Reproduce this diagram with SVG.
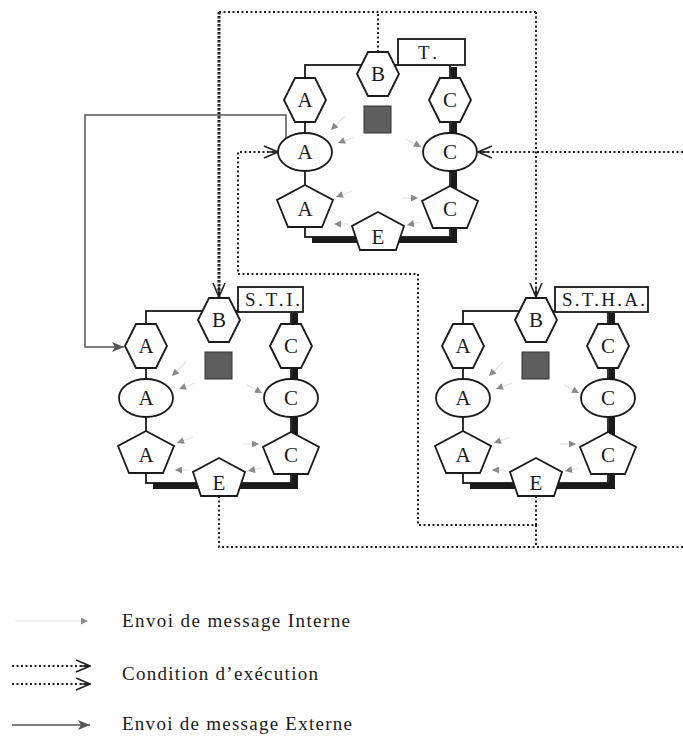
<svg xmlns="http://www.w3.org/2000/svg" width="683" height="736" viewBox="0 0 683 736">
<style>
.shape{fill:#fff;stroke:#1a1a1a;stroke-width:1.8}
.frame{fill:none;stroke:#1a1a1a;stroke-width:1.8}
.shadow{fill:none;stroke:#1a1a1a;stroke-width:6}
.core{fill:#5e5e5e;stroke:#333;stroke-width:1}
.lbl{font-family:"Liberation Serif",serif;font-size:21px;fill:#1a1a1a;text-anchor:middle}
.box{font-family:"Liberation Serif",serif;font-size:19px;fill:#1a1a1a}
.int{stroke:#e2e2e2;stroke-width:1.2;fill:none;marker-end:url(#mInt)}
.cond{fill:none;stroke:#222;stroke-width:2;stroke-dasharray:2 2.5}
.condB{fill:none;stroke:#222;stroke-width:3;stroke-dasharray:2.5 1.5}
.ext{fill:none;stroke:#555;stroke-width:1.5}
.leg{font-family:"Liberation Serif",serif;font-size:19px;fill:#1a1a1a}
</style>
<defs>
<polygon id="hex" points="-21,0 -10,-22 10,-22 21,0 10,22 -10,22"/>
<polygon id="pent" points="0,-21 28,-6 17,21 -17,21 -28,-6"/>
<polygon id="pentE" points="0,-19 26,-5 18,19 -18,19 -26,-5"/>
<marker id="mInt" viewBox="0 0 10 10" refX="10" refY="5" markerWidth="9" markerHeight="7" markerUnits="userSpaceOnUse" orient="auto">
<path d="M0,0 L10,5 L0,10 z" fill="#8a8a8a"/>
</marker>
<marker id="mCond" viewBox="0 0 16 14" refX="15" refY="7" markerWidth="16" markerHeight="14" markerUnits="userSpaceOnUse" orient="auto">
<path d="M1,1 L15,7 L1,13 M5,7 L15,7" fill="none" stroke="#222" stroke-width="1.6" stroke-dasharray="none"/>
</marker>
<marker id="mExt" viewBox="0 0 12 10" refX="12" refY="5" markerWidth="12" markerHeight="10" markerUnits="userSpaceOnUse" orient="auto">
<path d="M0,0 L12,5 L0,10 L3,5 z" fill="#555"/>
</marker>
</defs>
<rect width="683" height="736" fill="#fff"/>

<g id="connectors">
<path class="cond" d="M378 52 V12 M219 12 H536 M536 12 V297" marker-end="url(#mCond)"/>
<path class="condB" d="M219 12 V297" marker-end="url(#mCond)"/>
<path class="cond" d="M536 496 V525 H418 V274 H238 V152 H278" marker-end="url(#mCond)"/>
<path class="cond" d="M536 525 V547 M219 496 V547 H683"/>
<path class="cond" d="M683 152 H478" marker-end="url(#mCond)"/>
<path class="ext" d="M286 138 V115 H85 V347 H124" marker-end="url(#mExt)"/>
</g>

<g id="module-T">
<g id="T-frame"><path class="shadow" d="M454 67 V240 H312"/><rect class="frame" x="305" y="65" width="145" height="172"/></g>
<g id="T-name"><rect class="shape" x="398" y="39" width="67" height="26"/><text class="box" x="418" y="59" textLength="19">T.</text></g>
<g id="T-core"><rect class="core" x="364" y="106" width="27" height="27"/></g>
<g id="T-internal">
<line class="int" x1="345" y1="116" x2="331" y2="130"/><line class="int" x1="354" y1="137" x2="338" y2="143"/>
<line class="int" x1="406" y1="139" x2="421" y2="147"/><line class="int" x1="352" y1="191" x2="336" y2="197"/>
<line class="int" x1="402" y1="198" x2="418" y2="198"/><line class="int" x1="348" y1="224" x2="334" y2="224"/>
<line class="int" x1="421" y1="222" x2="407" y2="225"/>
</g>
<g id="T-B"><use href="#hex" class="shape" x="378" y="74"/><text class="lbl" x="378" y="81">B</text></g>
<g id="T-A1"><use href="#hex" class="shape" x="305" y="100"/><text class="lbl" x="305" y="107">A</text></g>
<g id="T-A2"><ellipse class="shape" cx="305" cy="152" rx="27" ry="19"/><text class="lbl" x="305" y="159">A</text></g>
<g id="T-A3"><use href="#pent" class="shape" x="305" y="206"/><text class="lbl" x="305" y="216">A</text></g>
<g id="T-C1"><use href="#hex" class="shape" x="450" y="100"/><text class="lbl" x="450" y="107">C</text></g>
<g id="T-C2"><ellipse class="shape" cx="450" cy="152" rx="27" ry="19"/><text class="lbl" x="450" y="159">C</text></g>
<g id="T-C3"><use href="#pent" class="shape" x="450" y="207"/><text class="lbl" x="450" y="216">C</text></g>
<g id="T-E"><use href="#pentE" class="shape" x="378" y="231"/><text class="lbl" x="378" y="244">E</text></g>
</g>

<g id="module-STI" transform="translate(-159,246)">
<g id="STI-frame"><path class="shadow" d="M454 67 V240 H312"/><rect class="frame" x="305" y="65" width="145" height="172"/></g>
<g id="STI-name"><rect class="shape" x="397" y="41" width="65" height="25"/><text class="box" x="404" y="60" textLength="55">S.T.I.</text></g>
<g id="STI-core"><rect class="core" x="364" y="106" width="27" height="27"/></g>
<g id="STI-internal">
<line class="int" x1="345" y1="116" x2="331" y2="130"/><line class="int" x1="354" y1="137" x2="338" y2="143"/>
<line class="int" x1="406" y1="139" x2="421" y2="147"/><line class="int" x1="352" y1="191" x2="336" y2="197"/>
<line class="int" x1="402" y1="198" x2="418" y2="198"/><line class="int" x1="348" y1="224" x2="334" y2="224"/>
<line class="int" x1="421" y1="222" x2="407" y2="225"/>
</g>
<g id="STI-B"><use href="#hex" class="shape" x="378" y="74"/><text class="lbl" x="378" y="81">B</text></g>
<g id="STI-A1"><use href="#hex" class="shape" x="305" y="100"/><text class="lbl" x="305" y="107">A</text></g>
<g id="STI-A2"><ellipse class="shape" cx="305" cy="152" rx="27" ry="19"/><text class="lbl" x="305" y="159">A</text></g>
<g id="STI-A3"><use href="#pent" class="shape" x="305" y="206"/><text class="lbl" x="305" y="216">A</text></g>
<g id="STI-C1"><use href="#hex" class="shape" x="450" y="100"/><text class="lbl" x="450" y="107">C</text></g>
<g id="STI-C2"><ellipse class="shape" cx="450" cy="152" rx="27" ry="19"/><text class="lbl" x="450" y="159">C</text></g>
<g id="STI-C3"><use href="#pent" class="shape" x="450" y="207"/><text class="lbl" x="450" y="216">C</text></g>
<g id="STI-E"><use href="#pentE" class="shape" x="378" y="231"/><text class="lbl" x="378" y="244">E</text></g>
</g>

<g id="module-STHA" transform="translate(158,246)">
<g id="STHA-frame"><path class="shadow" d="M454 67 V240 H312"/><rect class="frame" x="305" y="65" width="145" height="172"/></g>
<g id="STHA-name"><rect class="shape" x="397" y="41" width="93" height="25"/><text class="box" x="404" y="60" textLength="83">S.T.H.A.</text></g>
<g id="STHA-core"><rect class="core" x="364" y="106" width="27" height="27"/></g>
<g id="STHA-internal">
<line class="int" x1="345" y1="116" x2="331" y2="130"/><line class="int" x1="354" y1="137" x2="338" y2="143"/>
<line class="int" x1="406" y1="139" x2="421" y2="147"/><line class="int" x1="352" y1="191" x2="336" y2="197"/>
<line class="int" x1="402" y1="198" x2="418" y2="198"/><line class="int" x1="348" y1="224" x2="334" y2="224"/>
<line class="int" x1="421" y1="222" x2="407" y2="225"/>
</g>
<g id="STHA-B"><use href="#hex" class="shape" x="378" y="74"/><text class="lbl" x="378" y="81">B</text></g>
<g id="STHA-A1"><use href="#hex" class="shape" x="305" y="100"/><text class="lbl" x="305" y="107">A</text></g>
<g id="STHA-A2"><ellipse class="shape" cx="305" cy="152" rx="27" ry="19"/><text class="lbl" x="305" y="159">A</text></g>
<g id="STHA-A3"><use href="#pent" class="shape" x="305" y="206"/><text class="lbl" x="305" y="216">A</text></g>
<g id="STHA-C1"><use href="#hex" class="shape" x="450" y="100"/><text class="lbl" x="450" y="107">C</text></g>
<g id="STHA-C2"><ellipse class="shape" cx="450" cy="152" rx="27" ry="19"/><text class="lbl" x="450" y="159">C</text></g>
<g id="STHA-C3"><use href="#pent" class="shape" x="450" y="207"/><text class="lbl" x="450" y="216">C</text></g>
<g id="STHA-E"><use href="#pentE" class="shape" x="378" y="231"/><text class="lbl" x="378" y="244">E</text></g>
</g>

<g id="legend">
<line class="int" x1="15" y1="621" x2="88" y2="621"/>
<text class="leg" x="122" y="627" textLength="228">Envoi de message Interne</text>
<line class="cond" x1="12" y1="666" x2="90" y2="666" marker-end="url(#mCond)"/>
<line class="cond" x1="12" y1="684" x2="90" y2="684" marker-end="url(#mCond)"/>
<text class="leg" x="122" y="680" textLength="196">Condition d’exécution</text>
<line class="ext" x1="12" y1="725" x2="90" y2="725" marker-end="url(#mExt)"/>
<text class="leg" x="122" y="730" textLength="230">Envoi de message Externe</text>
</g>
</svg>
